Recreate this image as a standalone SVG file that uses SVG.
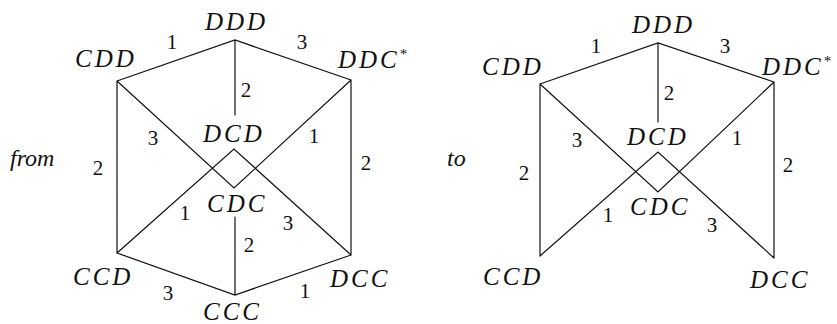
<svg xmlns="http://www.w3.org/2000/svg" width="837" height="324" viewBox="0 0 837 324">
<style>
.e{stroke:#111;stroke-width:1.2;fill:none;stroke-linecap:round}
.n{font-style:italic;font-size:25px;letter-spacing:3px;fill:#111}
.s{font-size:15px;font-style:normal;letter-spacing:0}
.d{font-size:21px;fill:#111;text-anchor:middle}
.w{font-style:italic;font-size:24px;fill:#111}
</style>
<rect width="837" height="324" fill="#fff"/>
<g font-family="'Liberation Serif', 'DejaVu Serif', 'Times New Roman', serif">
<g id="connectors">
<g id="left-edges">
<path class="e" d="M117,81L235,40L351,80M235,40V115M117,81V253M351,80V255M117,81L234,188L351,80M117,253L234,149L351,255M117,253L235,295L351,255M235,217V295"/>
</g>
<g id="right-edges">
<path class="e" d="M540,84L658,43L774,82M658,43V122M540,84V256M774,82V258M540,84L658,192L774,82M540,256L658,152L774,258"/>
</g>
<g id="edge-labels">
<text class="d" x="172" y="49">1</text>
<text class="d" x="302" y="49">3</text>
<text class="d" x="246" y="97">2</text>
<text class="d" x="153" y="145">3</text>
<text class="d" x="314" y="143">1</text>
<text class="d" x="98" y="175">2</text>
<text class="d" x="366" y="170">2</text>
<text class="d" x="185" y="220">1</text>
<text class="d" x="288" y="230">3</text>
<text class="d" x="249" y="252">2</text>
<text class="d" x="168" y="300">3</text>
<text class="d" x="305" y="298">1</text>
<text class="d" x="596" y="53">1</text>
<text class="d" x="725" y="53">3</text>
<text class="d" x="669" y="100">2</text>
<text class="d" x="577" y="147">3</text>
<text class="d" x="737" y="145">1</text>
<text class="d" x="524" y="180">2</text>
<text class="d" x="788" y="172">2</text>
<text class="d" x="608" y="222">1</text>
<text class="d" x="712" y="232">3</text>
</g>
</g>
<text class="w" x="10" y="166">from</text>
<text class="w" x="447" y="166">to</text>
<g id="L-DDD"><text class="n" x="205" y="30">DDD</text></g>
<g id="L-CDD"><text class="n" x="75" y="67">CDD</text></g>
<g id="L-DDC"><text class="n" x="338" y="68">DDC<tspan class="s" dy="-9">*</tspan></text></g>
<g id="L-DCD"><text class="n" x="203" y="142">DCD</text></g>
<g id="L-CDC"><text class="n" x="207" y="212">CDC</text></g>
<g id="L-CCD"><text class="n" x="73" y="285">CCD</text></g>
<g id="L-DCC"><text class="n" x="330" y="287">DCC</text></g>
<g id="L-CCC"><text class="n" x="203" y="320">CCC</text></g>
<g id="R-DDD"><text class="n" x="632" y="33">DDD</text></g>
<g id="R-CDD"><text class="n" x="482" y="75">CDD</text></g>
<g id="R-DDC"><text class="n" x="762" y="75">DDC<tspan class="s" dy="-9">*</tspan></text></g>
<g id="R-DCD"><text class="n" x="627" y="145">DCD</text></g>
<g id="R-CDC"><text class="n" x="630" y="215">CDC</text></g>
<g id="R-CCD"><text class="n" x="483" y="285">CCD</text></g>
<g id="R-DCC"><text class="n" x="750" y="288">DCC</text></g>
</g>
</svg>
